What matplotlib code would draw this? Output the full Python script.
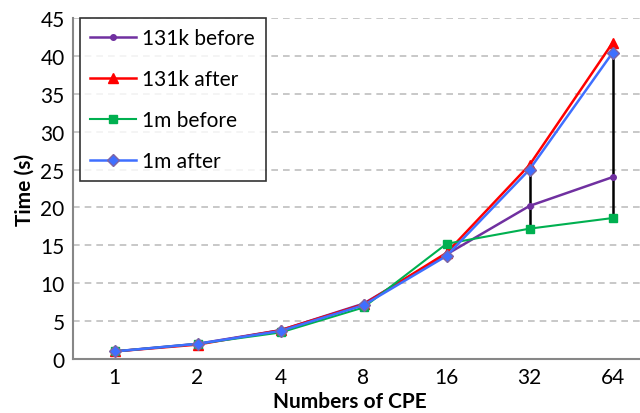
import matplotlib
matplotlib.use("Agg")
import matplotlib.pyplot as plt
import numpy as np

categories = ["1", "2", "4", "8", "16", "32", "64"]
k131_before = [1.0, 2.0, 3.8, 7.3, 13.8, 20.2, 24.0]
k131_after = [1.0, 1.9, 3.8, 7.2, 14.0, 25.6, 41.7]
m1_before = [1.0, 2.0, 3.5, 6.8, 15.2, 17.2, 18.6]
m1_after = [1.0, 2.0, 3.7, 7.1, 13.6, 25.0, 40.4]

plt.rcParams['font.family'] = ['Lato', 'DejaVu Sans']

fig = plt.figure(figsize=(6.4, 4.14), dpi=100)
ax = fig.add_axes([73/640, 54/414, 581/640, 341/414])
x = np.arange(len(categories))

# high-low lines
allv = np.array([k131_before, k131_after, m1_before, m1_after])
hi = allv.max(axis=0)
lo = allv.min(axis=0)
ax.vlines(x, lo, hi, color='black', lw=1.8, zorder=2)

ax.plot(x, k131_before, color='#7030A0', marker='o', ms=4, lw=1.8, label='131k before', zorder=3)
ax.plot(x, k131_after, color='#FF0000', marker='^', ms=7, lw=1.8, label='131k after', zorder=3)
ax.plot(x, m1_before, color='#00B050', marker='s', ms=6, lw=1.5, label='1m before', zorder=3)
ax.plot(x, m1_after, color='#3F6FFF', marker='D', ms=6, lw=1.8, label='1m after', zorder=3,
        markeredgecolor='#8064A2')

ax.set_xlim(-0.5, len(categories) - 0.5)
ax.set_ylim(0, 45)
ax.set_yticks(np.arange(0, 46, 5))
ax.set_xticks(x)
ax.set_xticklabels(categories)
ax.yaxis.grid(True, linestyle=(0, (4, 3)), color='#BFBFBF', lw=1.2)
ax.set_axisbelow(True)
for s in ['top', 'right']:
    ax.spines[s].set_visible(False)
for s in ['left', 'bottom']:
    ax.spines[s].set_color('#878787')
    ax.spines[s].set_linewidth(1.5)
ax.tick_params(axis='both', length=0, labelsize=15, pad=6)
ax.set_xlabel('Numbers of CPE', fontsize=15, fontweight='bold', labelpad=2)
ax.xaxis.set_label_coords((350 - 73) / 581, -0.095)
ax.set_ylabel('Time (s)', fontsize=15, fontweight='bold', labelpad=4)

leg = ax.legend(loc='upper left', bbox_to_anchor=(7/581, 1.0), fontsize=15,
                frameon=True, fancybox=False, edgecolor='black', borderpad=0.5,
                labelspacing=1.0, handlelength=2.2, handletextpad=0.3, borderaxespad=0)
leg.get_frame().set_linewidth(1.2)

fig.savefig('out.png', dpi=100)
